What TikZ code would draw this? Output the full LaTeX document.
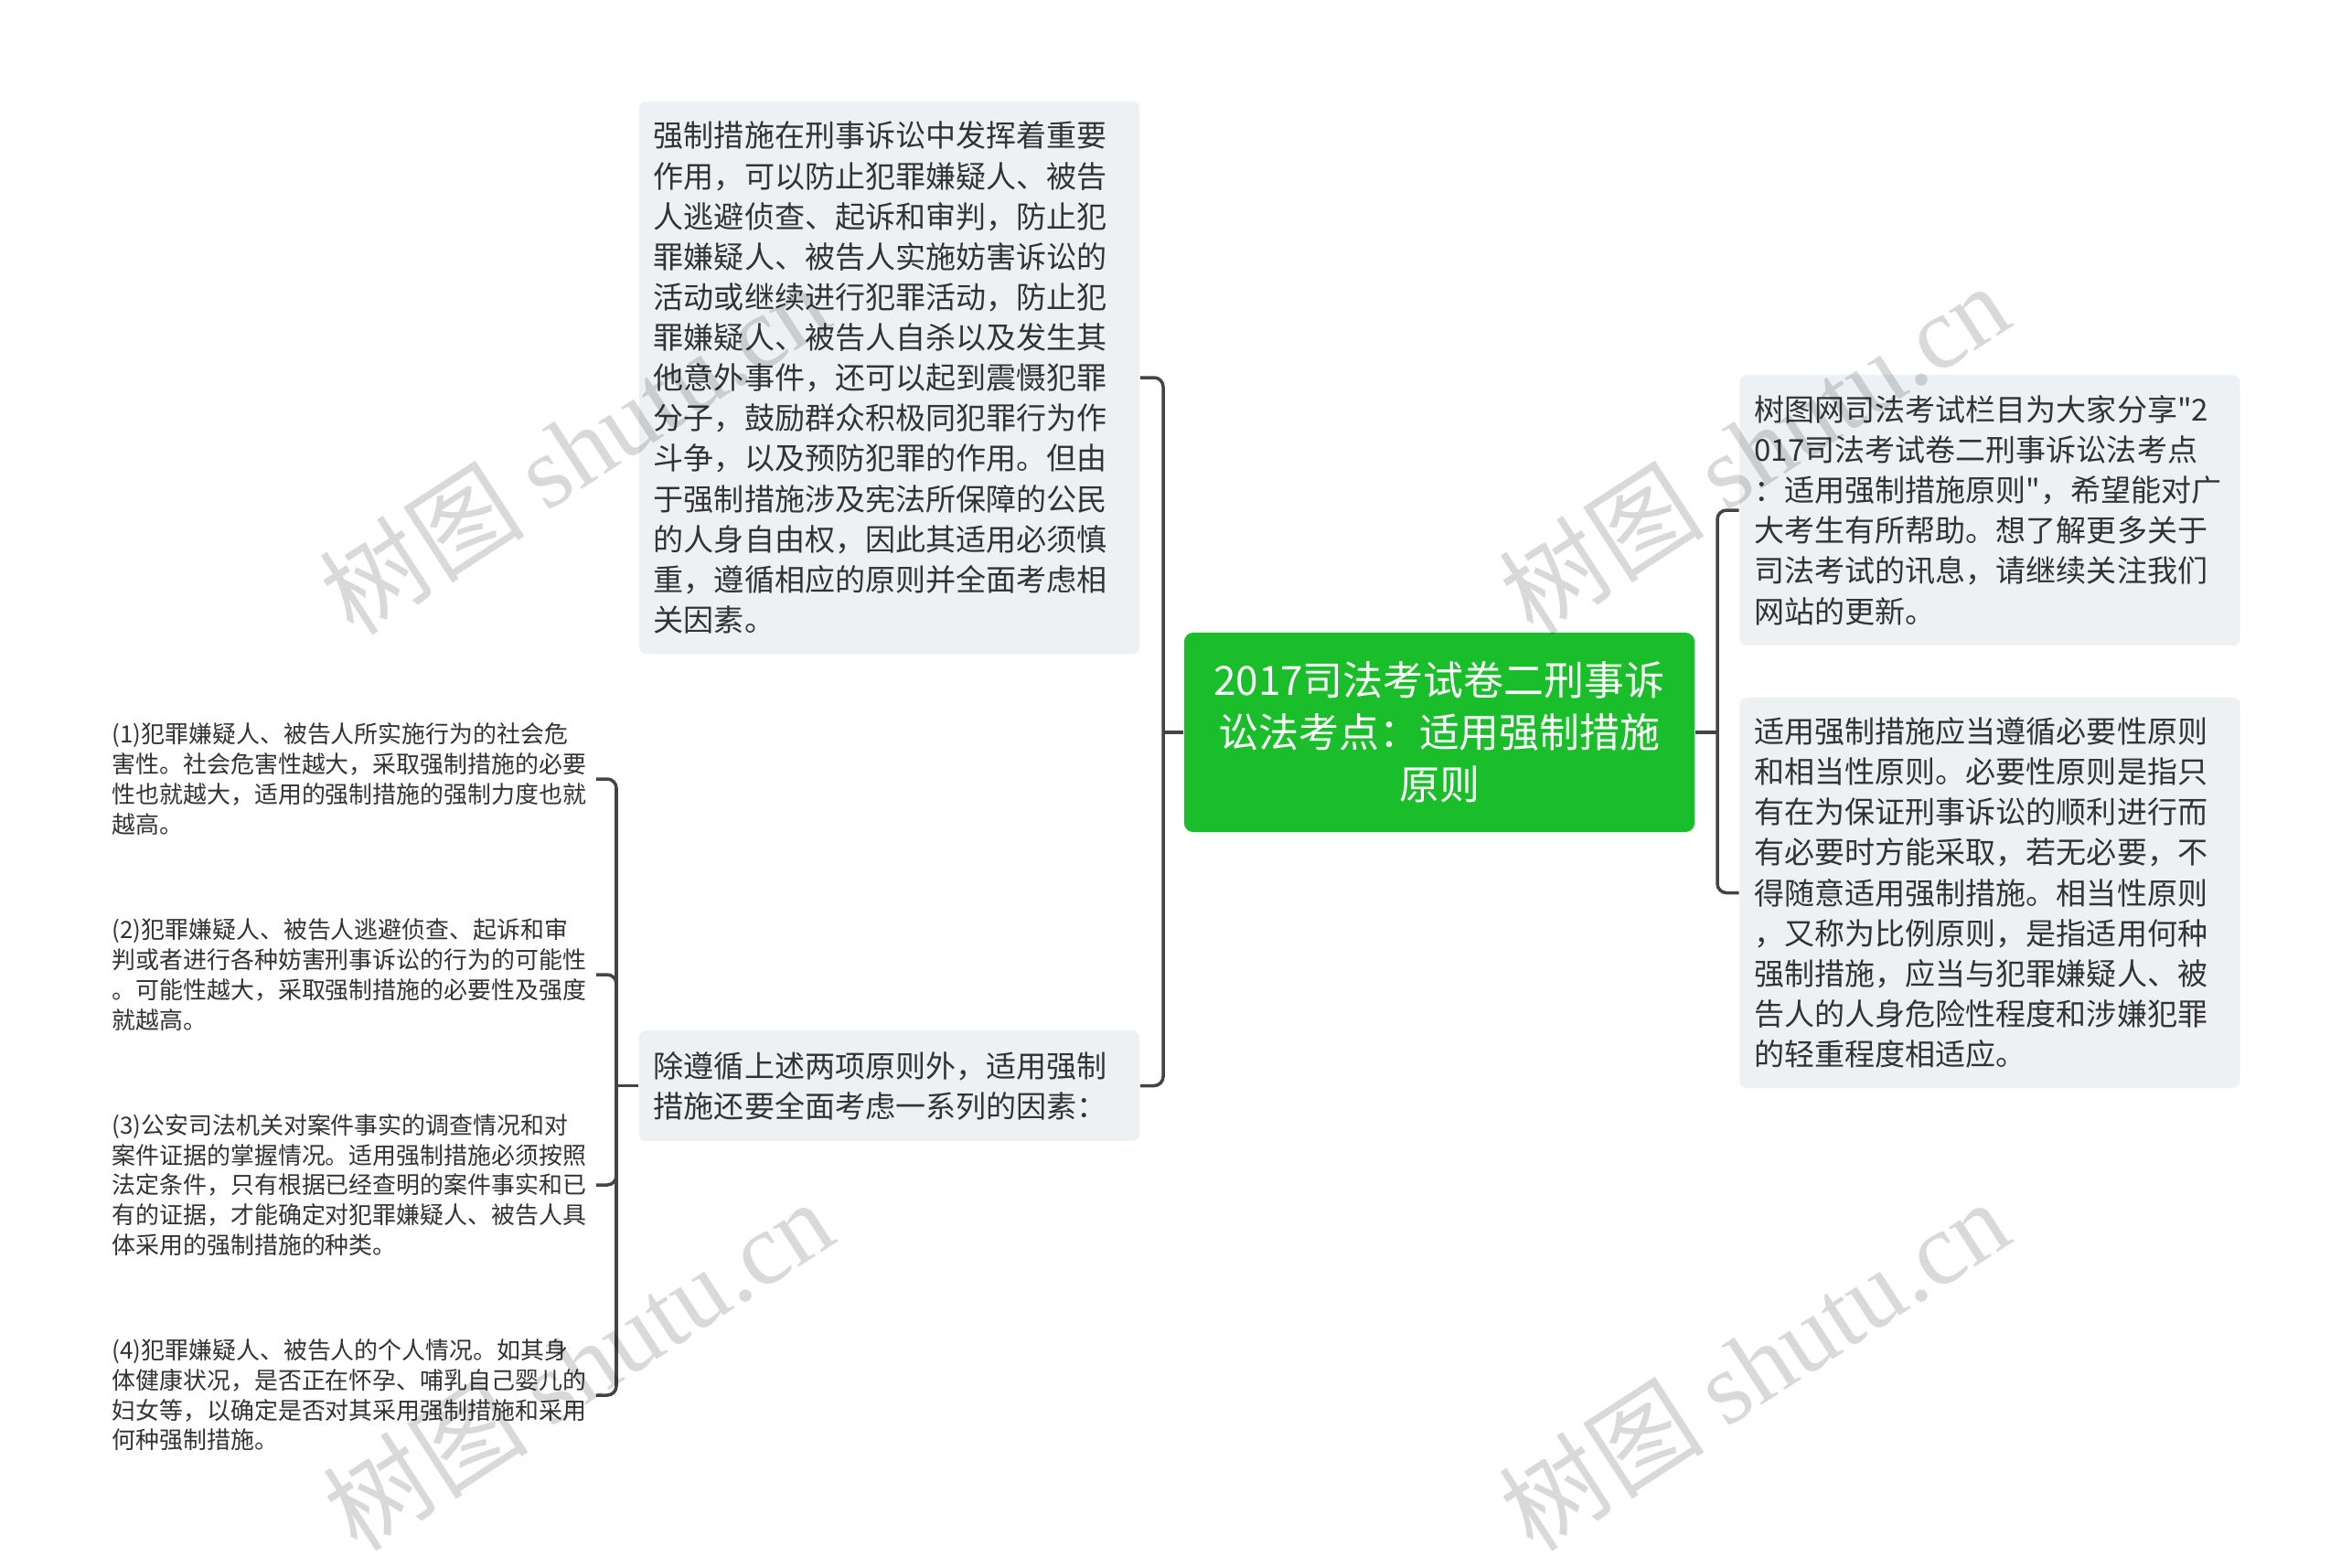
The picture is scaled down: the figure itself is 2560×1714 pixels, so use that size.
\documentclass[tikz,border=0pt]{standalone}
\usepackage{fontspec}
\setmainfont{Noto Sans CJK SC}[Ligatures=TeXOff]
\newfontfamily\wmserif{Liberation Serif}
\definecolor{boxgray}{RGB}{238,241,244}
\definecolor{rootgreen}{RGB}{26,190,42}
\definecolor{inkgray}{RGB}{51,51,51}
\definecolor{linegray}{RGB}{68,68,68}

\begin{document}
\begin{tikzpicture}[x=0.01cm,y=-0.01cm,
      box/.style={fill=boxgray,rounded corners=0.08cm,text=inkgray,align=left,
        text width=5.15cm,inner xsep=0.16cm,font=\fontsize{9.4}{12.55}\selectfont},
      root/.style={fill=rootgreen,rounded corners=0.1cm,text=white,align=center,
        minimum width=5.58cm,minimum height=2.18cm,font=\fontsize{12.5}{16.2}\selectfont},
      leaf/.style={anchor=west,text=inkgray,align=left,inner sep=0.1cm,
        font=\fontsize{7.37}{9.3}\selectfont},
      conn/.style={draw=linegray,line width=1pt},
      elbow/.style={conn,rounded corners=0.1cm},
      wm/.style={rotate=33,text=black,text opacity=0.15,font=\fontsize{32}{32}\selectfont}]
    \useasboundingbox[fill=white] (0,0) rectangle (2560,1714);

    \node[root] (ctr) at (1574,801) {2017司法考试卷二刑事诉\\讼法考点：适用强制措施\\原则};

    \node[box,minimum height=6.04cm] (tl) at (972.5,413) {强制措施在刑事诉讼中发挥着重要\\
      作用，可以防止犯罪嫌疑人、被告\\
      人逃避侦查、起诉和审判，防止犯\\
      罪嫌疑人、被告人实施妨害诉讼的\\
      活动或继续进行犯罪活动，防止犯\\
      罪嫌疑人、被告人自杀以及发生其\\
      他意外事件，还可以起到震慑犯罪\\
      分子，鼓励群众积极同犯罪行为作\\
      斗争，以及预防犯罪的作用。但由\\
      于强制措施涉及宪法所保障的公民\\
      的人身自由权，因此其适用必须慎\\
      重，遵循相应的原则并全面考虑相\\
      关因素。};
    \node[box,minimum height=1.21cm] (bm) at (972.5,1187.5) {除遵循上述两项原则外，适用强制\\
      措施还要全面考虑一系列的因素：};

    \node[box,minimum height=2.96cm] (rt) at (2176,558) {树图网司法考试栏目为大家分享"2\\
      017司法考试卷二刑事诉讼法考点\\
      ：适用强制措施原则"，希望能对广\\
      大考生有所帮助。想了解更多关于\\
      司法考试的讯息，请继续关注我们\\
      网站的更新。};
    \node[box,minimum height=4.27cm] (rb) at (2176,976.5) {适用强制措施应当遵循必要性原则\\
      和相当性原则。必要性原则是指只\\
      有在为保证刑事诉讼的顺利进行而\\
      有必要时方能采取，若无必要，不\\
      得随意适用强制措施。相当性原则\\
      ，又称为比例原则，是指适用何种\\
      强制措施，应当与犯罪嫌疑人、被\\
      告人的人身危险性程度和涉嫌犯罪\\
      的轻重程度相适应。};

    \node[leaf] (f1) at (112,852) {(1)犯罪嫌疑人、被告人所实施行为的社会危\\
      害性。社会危害性越大，采取强制措施的必要\\
      性也就越大，适用的强制措施的强制力度也就\\
      越高。};
    \node[leaf] (f2) at (112,1066) {(2)犯罪嫌疑人、被告人逃避侦查、起诉和审\\
      判或者进行各种妨害刑事诉讼的行为的可能性\\
      。可能性越大，采取强制措施的必要性及强度\\
      就越高。};
    \node[leaf] (f3) at (112,1296) {(3)公安司法机关对案件事实的调查情况和对\\
      案件证据的掌握情况。适用强制措施必须按照\\
      法定条件，只有根据已经查明的案件事实和已\\
      有的证据，才能确定对犯罪嫌疑人、被告人具\\
      体采用的强制措施的种类。};
    \node[leaf] (f4) at (112,1526) {(4)犯罪嫌疑人、被告人的个人情况。如其身\\
      体健康状况，是否正在怀孕、哺乳自己婴儿的\\
      妇女等，以确定是否对其采用强制措施和采用\\
      何种强制措施。};

    \coordinate (lj) at (1272,801);
    \coordinate (rj) at (1878,801);
    \coordinate (fj) at (674,1187.5);

    \draw[conn] (ctr.west) -- (lj);
    \draw[elbow] (lj) |- (tl.east);
    \draw[elbow] (lj) |- (bm.east);
    \draw[conn] (ctr.east) -- (rj);
    \draw[elbow] (rj) |- (rt.west);
    \draw[elbow] (rj) |- (rb.west);
    \draw[conn] (bm.west) -- (fj);
    \foreach \f in {f1,f2,f3,f4}
      \draw[elbow] (fj) |- (\f.east);

    \node[wm] (w1) at (628,490) {树图 {\wmserif shutu.cn}};
    \node[wm] (w2) at (1918,490) {树图 {\wmserif shutu.cn}};
    \node[wm] (w3) at (632,1492) {树图 {\wmserif shutu.cn}};
    \node[wm] (w4) at (1918,1492) {树图 {\wmserif shutu.cn}};
  \end{tikzpicture}
\end{document}
